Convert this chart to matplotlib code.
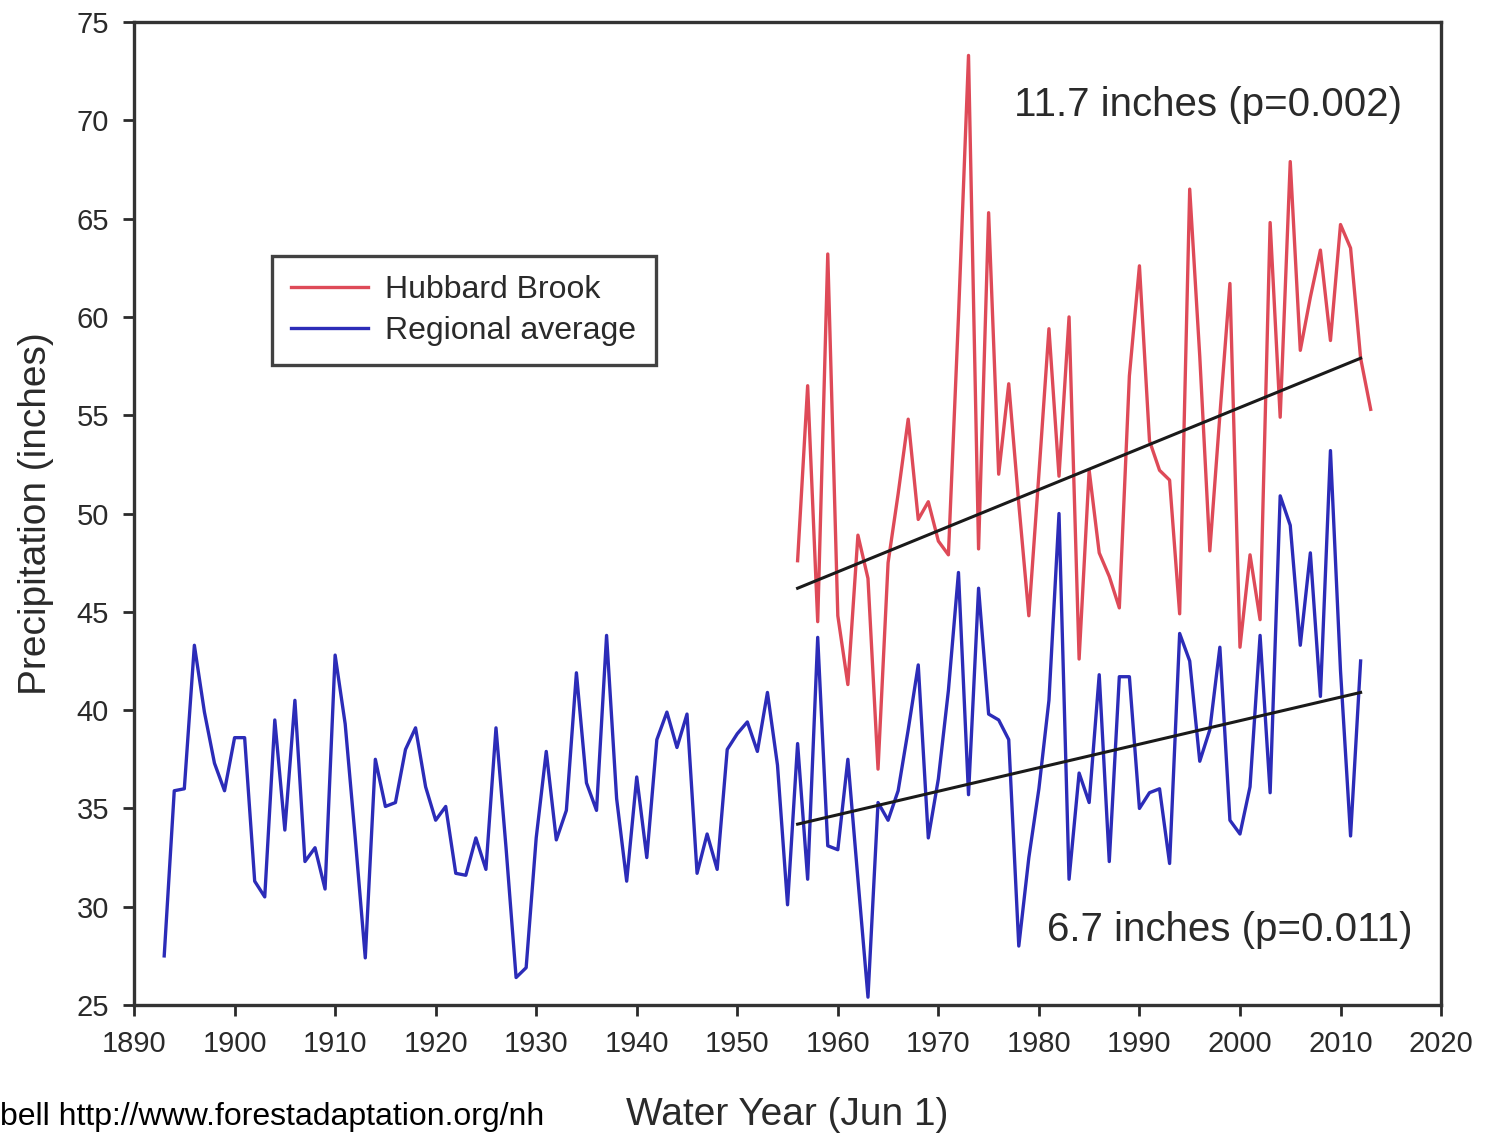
import matplotlib
matplotlib.use("Agg")
import matplotlib.pyplot as plt
import numpy as np

plt.rcParams["font.family"] = ["Liberation Sans", "DejaVu Sans"]

# Regional average annual precipitation (inches), water years 1893-2012
regional_years = list(range(1893, 2013))
regional_precip = [
    27.5, 35.9, 36.0, 43.3, 39.9, 37.3, 35.9, 38.6, 38.6, 31.3,   # 1893-1902
    30.5, 39.5, 33.9, 40.5, 32.3, 33.0, 30.9, 42.8, 39.3, 33.5,   # 1903-1912
    27.4, 37.5, 35.1, 35.3, 38.0, 39.1, 36.1, 34.4, 35.1, 31.7,   # 1913-1922
    31.6, 33.5, 31.9, 39.1, 33.0, 26.4, 26.9, 33.5, 37.9, 33.4,   # 1923-1932
    34.9, 41.9, 36.3, 34.9, 43.8, 35.5, 31.3, 36.6, 32.5, 38.5,   # 1933-1942
    39.9, 38.1, 39.8, 31.7, 33.7, 31.9, 38.0, 38.8, 39.4, 37.9,   # 1943-1952
    40.9, 37.2, 30.1, 38.3, 31.4, 43.7, 33.1, 32.9, 37.5, 31.4,   # 1953-1962
    25.4, 35.3, 34.4, 35.9, 39.0, 42.3, 33.5, 36.5, 41.0, 47.0,   # 1963-1972
    35.7, 46.2, 39.8, 39.5, 38.5, 28.0, 32.5, 36.0, 40.5, 50.0,   # 1973-1982
    31.4, 36.8, 35.3, 41.8, 32.3, 41.7, 41.7, 35.0, 35.8, 36.0,   # 1983-1992
    32.2, 43.9, 42.5, 37.4, 39.0, 43.2, 34.4, 33.7, 36.1, 43.8,   # 1993-2002
    35.8, 50.9, 49.4, 43.3, 48.0, 40.7, 53.2, 42.0, 33.6, 42.5,   # 2003-2012
]

# Hubbard Brook annual precipitation (inches), water years 1956-2013
hubbard_years = list(range(1956, 2014))
hubbard_precip = [
    47.6, 56.5, 44.5, 63.2, 44.8, 41.3, 48.9, 46.7, 37.0, 47.5,   # 1956-1965
    51.0, 54.8, 49.7, 50.6, 48.6, 47.9, 60.0, 73.3, 48.2, 65.3,   # 1966-1975
    52.0, 56.6, 50.5, 44.8, 52.0, 59.4, 51.9, 60.0, 42.6, 52.2,   # 1976-1985
    48.0, 46.8, 45.2, 57.0, 62.6, 53.7, 52.2, 51.7, 44.9, 66.5,   # 1986-1995
    58.0, 48.1, 55.0, 61.7, 43.2, 47.9, 44.6, 64.8, 54.9, 67.9,   # 1996-2005
    58.3, 61.0, 63.4, 58.8, 64.7, 63.5, 57.9, 55.3,               # 2006-2013
]

# Linear trends 1956-2012: starting level and total change over the period
trend_years = [1956, 2012]
hubbard_trend_start, hubbard_trend_change = 46.2, 11.7
regional_trend_start, regional_trend_change = 34.2, 6.7

x_ticks = list(range(1890, 2021, 10))
y_ticks = list(range(25, 76, 5))

fig = plt.figure(figsize=(14.91, 11.35), dpi=100)
ax = fig.add_axes([0.0899, 0.1145, 0.8766, 0.8661])

red = "#de4a58"
blue = "#2c2cb8"
text_col = "#2a2a2a"

ax.plot(hubbard_years, hubbard_precip, color=red, lw=2.4, label="Hubbard Brook", zorder=3)
ax.plot(regional_years, regional_precip, color=blue, lw=2.4, label="Regional average", zorder=3)

ax.plot(trend_years,
        [hubbard_trend_start, hubbard_trend_start + hubbard_trend_change],
        color="#1a1a1a", lw=2.2, zorder=4)
ax.plot(trend_years,
        [regional_trend_start, regional_trend_start + regional_trend_change],
        color="#1a1a1a", lw=2.2, zorder=4)

ax.text(1996.8, 70.8, f"{hubbard_trend_change} inches (p=0.002)", fontsize=29,
        color=text_col, ha="center", va="center")
ax.text(1999.0, 28.8, f"{regional_trend_change} inches (p=0.011)", fontsize=29,
        color=text_col, ha="center", va="center")

ax.set_xlim(1890, 2020)
ax.set_ylim(25, 75)
ax.set_xticks(x_ticks)
ax.set_yticks(y_ticks)
ax.tick_params(axis="both", direction="out", length=8, width=2, labelsize=21,
               colors=text_col, pad=10)
for s in ax.spines.values():
    s.set_linewidth(2.4)
    s.set_color("#333333")

ax.set_xlabel("Water Year (Jun 1)", fontsize=28, color=text_col, labelpad=28)
ax.set_ylabel("Precipitation (inches)", fontsize=28, color=text_col, labelpad=16)

leg = ax.legend(loc="upper left", bbox_to_anchor=(0.1056, 0.762), fontsize=23,
                frameon=True, fancybox=False, edgecolor="#111111",
                handlelength=2.4, handletextpad=0.55, borderpad=0.6,
                labelspacing=0.35, borderaxespad=0)
leg.get_frame().set_linewidth(2.4)
for t in leg.get_texts():
    t.set_color(text_col)

fig.text(0.0, 0.0085, "bell http://www.forestadaptation.org/nh", fontsize=23,
         color="black", ha="left", va="baseline")

fig.savefig("out.png", dpi=100, facecolor="white")
